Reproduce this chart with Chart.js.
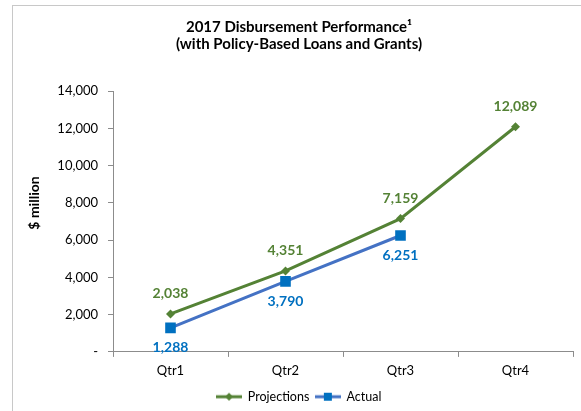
<!DOCTYPE html>
<html>
<head>
<meta charset="utf-8">
<script src="https://cdn.jsdelivr.net/npm/chart.js@4.4.1/dist/chart.umd.min.js"></script>
<style>
  html, body { margin:0; padding:0; background:#fff; overflow:hidden; }
  #wrap { position:relative; width:581px; height:411px; overflow:hidden; }
  #frame { position:absolute; left:12px; top:5px; width:640px; height:460px; border:1px solid #c8c8c8; box-sizing:border-box; }
  #box { position:absolute; left:0; top:0; width:598px; height:411px; }
</style>
</head>
<body>
<div id="wrap">
  <div id="frame"></div>
  <div id="box"><canvas id="chart" width="598" height="411"></canvas></div>
</div>
<script>
// datos
const QUARTERS = ['Qtr1', 'Qtr2', 'Qtr3', 'Qtr4'];
const PROJECTIONS = [2038, 4351, 7159, 12089];
const ACTUAL = [1288, 3790, 6251, null];
const Y_MIN = 0, Y_MAX = 14000, Y_STEP = 2000;
const Y_TITLE = '$ million';

const GREEN = '#548235';
const BLUE_LINE = '#4472C4';
const BLUE = '#0070C0';
const AXIS = '#8c8c8c';
const FONT = 'Lato, "Liberation Sans", sans-serif';

const fmt = v => v.toLocaleString('en-US');

// icono de leyenda: linea con marcador
function legendIcon(color, markerColor, shape){
  const c = document.createElement('canvas');
  c.width = 26; c.height = 10;
  const g = c.getContext('2d');
  g.strokeStyle = color; g.lineWidth = 3;
  g.beginPath(); g.moveTo(0, 5); g.lineTo(26, 5); g.stroke();
  g.fillStyle = markerColor;
  if(shape === 'diamond'){
    g.beginPath(); g.moveTo(13, 1); g.lineTo(17, 5); g.lineTo(13, 9); g.lineTo(9, 5); g.closePath(); g.fill();
  } else {
    g.fillRect(9, 1, 8, 8);
  }
  return c;
}

// etiquetas de valor sobre/bajo los puntos + titulo del eje y
const valueLabels = {
  id: 'valueLabels',
  afterDatasetsDraw(chart){
    const ctx = chart.ctx;
    ctx.save();
    ctx.font = 'bold 14px ' + FONT;
    ctx.textAlign = 'center';
    ctx.textBaseline = 'middle';
    chart.data.datasets.forEach((ds, i) => {
      const meta = chart.getDatasetMeta(i);
      meta.data.forEach((pt, j) => {
        const v = ds.data[j];
        if(v == null) return;
        ctx.fillStyle = ds.labelColor;
        ctx.fillText(fmt(v), pt.x, pt.y + ds.labelOffset);
      });
    });
    // titulo del eje y (un poco arriba del centro, como en el original)
    ctx.translate(34, 203);
    ctx.rotate(-Math.PI / 2);
    ctx.fillStyle = '#000';
    ctx.fillText(Y_TITLE, 0, 0);
    ctx.restore();
  }
};

new Chart(document.getElementById('chart'), {
  type: 'line',
  data: {
    labels: QUARTERS,
    datasets: [
      {
        label: 'Projections', data: PROJECTIONS,
        borderColor: GREEN, backgroundColor: GREEN, borderWidth: 3,
        pointStyle: 'rectRot', pointRadius: 4.5, pointBorderWidth: 0,
        labelColor: GREEN, labelOffset: -20, tension: 0,
        legendIcon: legendIcon(GREEN, GREEN, 'diamond')
      },
      {
        label: 'Actual', data: ACTUAL,
        borderColor: BLUE_LINE, backgroundColor: BLUE, borderWidth: 3,
        pointStyle: 'rect', pointRadius: 7.5, pointBorderWidth: 0,
        labelColor: BLUE, labelOffset: 20, tension: 0,
        legendIcon: legendIcon(BLUE_LINE, BLUE, 'square')
      }
    ]
  },
  options: {
    responsive: false,
    animation: false,
    layout: { padding: { left: 0, right: 0, top: 0, bottom: -2 } },
    plugins: {
      tooltip: { enabled: false },
      title: {
        display: true,
        text: ['2017 Disbursement Performance\u00B9', '(with Policy-Based Loans and Grants)'],
        color: '#000',
        font: { family: FONT, size: 15, weight: 'bold', lineHeight: 1.14 },
        padding: { top: 19, bottom: 38 }
      },
      legend: {
        position: 'bottom',
        labels: {
          color: '#000',
          font: { family: FONT, size: 12.5 },
          usePointStyle: true,
          pointStyleWidth: 25,
          padding: 6,
          generateLabels(chart){
            return Chart.defaults.plugins.legend.labels.generateLabels(chart).map(l => {
              l.pointStyle = chart.data.datasets[l.datasetIndex].legendIcon;
              return l;
            });
          }
        }
      }
    },
    scales: {
      x: {
        offset: true,
        grid: { display: true, offset: true, drawOnChartArea: false, tickLength: 5, color: AXIS },
        border: { color: AXIS },
        ticks: { color: '#000', font: { family: FONT, size: 13 }, padding: 6 }
      },
      y: {
        min: Y_MIN, max: Y_MAX,
        grid: { display: true, drawOnChartArea: false, tickLength: 5, color: AXIS },
        border: { color: AXIS },
        ticks: {
          stepSize: Y_STEP, color: '#000', font: { family: FONT, size: 13 }, padding: 10,
          callback: v => v === 0 ? '-' : fmt(v)
        },
        afterFit: s => { s.width = 113; }
      },
      // eje vacio a la derecha: solo reserva el margen
      yRight: {
        position: 'right', min: Y_MIN, max: Y_MAX,
        grid: { display: false }, border: { display: false }, ticks: { display: false },
        afterFit: s => { s.width = 25; }
      }
    }
  },
  plugins: [valueLabels]
});
</script>
</body>
</html>
